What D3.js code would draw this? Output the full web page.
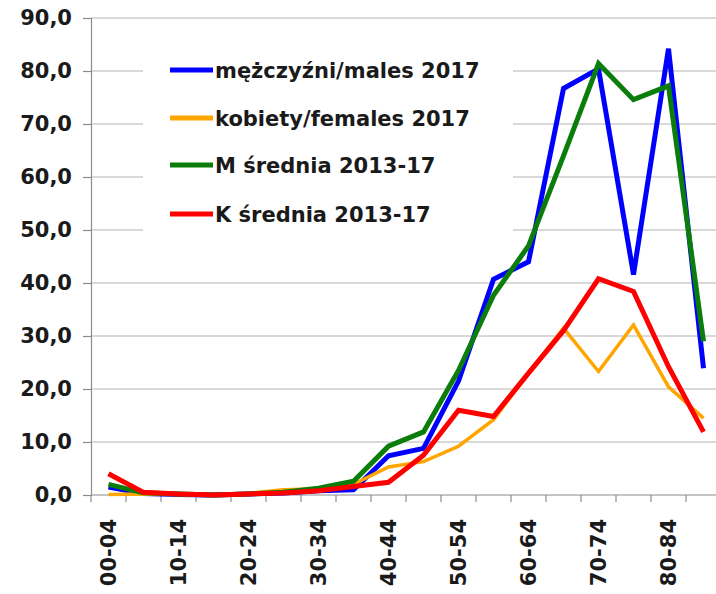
<!DOCTYPE html>
<html>
<head>
<meta charset="utf-8">
<script src="https://cdn.jsdelivr.net/npm/d3@7"></script>
<style>
  html, body { margin: 0; padding: 0; background: #fff; }
  svg { display: block; }
  text { font-family: "DejaVu Sans", Verdana, sans-serif; font-weight: bold; fill: #1a1a1a; }
</style>
</head>
<body>
<script>
// Age groups
const categories = ["00-04","05-09","10-14","15-19","20-24","25-29","30-34","35-39","40-44",
  "45-49","50-54","55-59","60-64","65-69","70-74","75-79","80-84","85+"];

// Rates per age group
const males2017   = [1.5, 0.3, 0.1, 0.0, 0.2, 0.4, 0.8, 1.0, 7.4, 8.8, 21.5, 40.7, 44.0, 76.7, 80.4, 41.6, 84.2, 23.9];
const females2017 = [0.1, 0.2, 0.1, 0.0, 0.3, 1.0, 1.2, 2.0, 5.3, 6.3, 9.2, 14.2, 23.0, 31.5, 23.3, 32.1, 20.4, 14.5];
const maleAvg     = [2.0, 0.4, 0.2, 0.0, 0.2, 0.5, 1.3, 2.6, 9.2, 11.9, 23.5, 37.7, 47.0, 64.0, 81.4, 74.6, 77.2, 29.0];
const femaleAvg   = [4.0, 0.5, 0.2, 0.0, 0.2, 0.4, 0.8, 1.6, 2.4, 7.5, 16.0, 14.8, 23.0, 31.0, 40.8, 38.4, 24.2, 11.9];

const yTicks = [0, 10, 20, 30, 40, 50, 60, 70, 80, 90];
const xLabels = ["00-04","10-14","20-24","30-34","40-44","50-54","60-64","70-74","80-84"];

const seriesNames = ["mężczyźni/males 2017", "kobiety/females 2017", "M średnia 2013-17", "K średnia 2013-17"];
const seriesData = [males2017, females2017, maleAvg, femaleAvg];
const seriesColors = ["#0000ff", "#ffa500", "#0a7d0a", "#ff0000"];
const seriesWidths = [5, 3.5, 5, 5];

const W = 716, H = 594;
const plotLeft = 91, plotRight = 721, plotTop = 18, plotBottom = 495;

const svg = d3.select("body").append("svg").attr("width", W).attr("height", H);

const x = d3.scaleBand().domain(categories).range([plotLeft, plotRight]);
const y = d3.scaleLinear().domain([0, 90]).range([plotBottom, plotTop]);
const fmt = v => d3.format(".1f")(v).replace(".", ",");

// Horizontal gridlines
svg.append("g").selectAll("line").data(yTicks.filter(t => t > 0)).join("line")
  .attr("x1", plotLeft).attr("x2", plotRight)
  .attr("y1", d => y(d)).attr("y2", d => y(d))
  .attr("stroke", "#b4b4b4").attr("stroke-width", 1.2);

// Y axis
const yAxis = d3.axisLeft(y).tickValues(yTicks).tickSize(8).tickPadding(11).tickFormat(fmt);
const gy = svg.append("g").attr("transform", `translate(${plotLeft},0)`).call(yAxis);
gy.select(".domain").attr("stroke", "#8c8c8c").attr("stroke-width", 1.2);
gy.selectAll(".tick line").attr("stroke", "#8c8c8c").attr("stroke-width", 1.2);
gy.selectAll(".tick text").style("font-size", "21px").attr("fill", "#1a1a1a");

// X axis: tick marks at category boundaries
const gx = svg.append("g");
gx.append("line").attr("x1", plotLeft).attr("x2", plotRight).attr("y1", plotBottom).attr("y2", plotBottom)
  .attr("stroke", "#8c8c8c").attr("stroke-width", 1.2);
gx.selectAll("line.tk").data(categories).join("line").attr("class", "tk")
  .attr("x1", d => x(d)).attr("x2", d => x(d))
  .attr("y1", plotBottom).attr("y2", plotBottom + 7)
  .attr("stroke", "#8c8c8c").attr("stroke-width", 1.2);
gx.selectAll("text").data(xLabels).join("text")
  .attr("transform", d => `translate(${x(d) + x.bandwidth() / 2 + 7},${plotBottom + 24}) rotate(-90)`)
  .attr("text-anchor", "end")
  .style("font-size", "21px")
  .text(d => d);

// Series lines
const line = d3.line()
  .x((d, i) => x(categories[i]) + x.bandwidth() / 2)
  .y(d => y(d));

seriesData.forEach((vals, k) => {
  svg.append("path").datum(vals)
    .attr("d", line)
    .attr("fill", "none")
    .attr("stroke", seriesColors[k])
    .attr("stroke-width", seriesWidths[k])
    .attr("stroke-linejoin", "miter")
    .attr("stroke-linecap", "butt");
});

// Legend
const lg = svg.append("g");
lg.append("rect").attr("x", 143).attr("y", 44).attr("width", 370).attr("height", 212).attr("fill", "#fff");
const legendY = [70, 118, 165, 214];
seriesNames.forEach((name, k) => {
  lg.append("line")
    .attr("x1", 170).attr("x2", 213)
    .attr("y1", legendY[k]).attr("y2", legendY[k])
    .attr("stroke", seriesColors[k]).attr("stroke-width", 5);
  lg.append("text")
    .attr("x", 215).attr("y", legendY[k])
    .attr("dy", "0.36em")
    .style("font-size", "21px")
    .text(name);
});
</script>
</body>
</html>
